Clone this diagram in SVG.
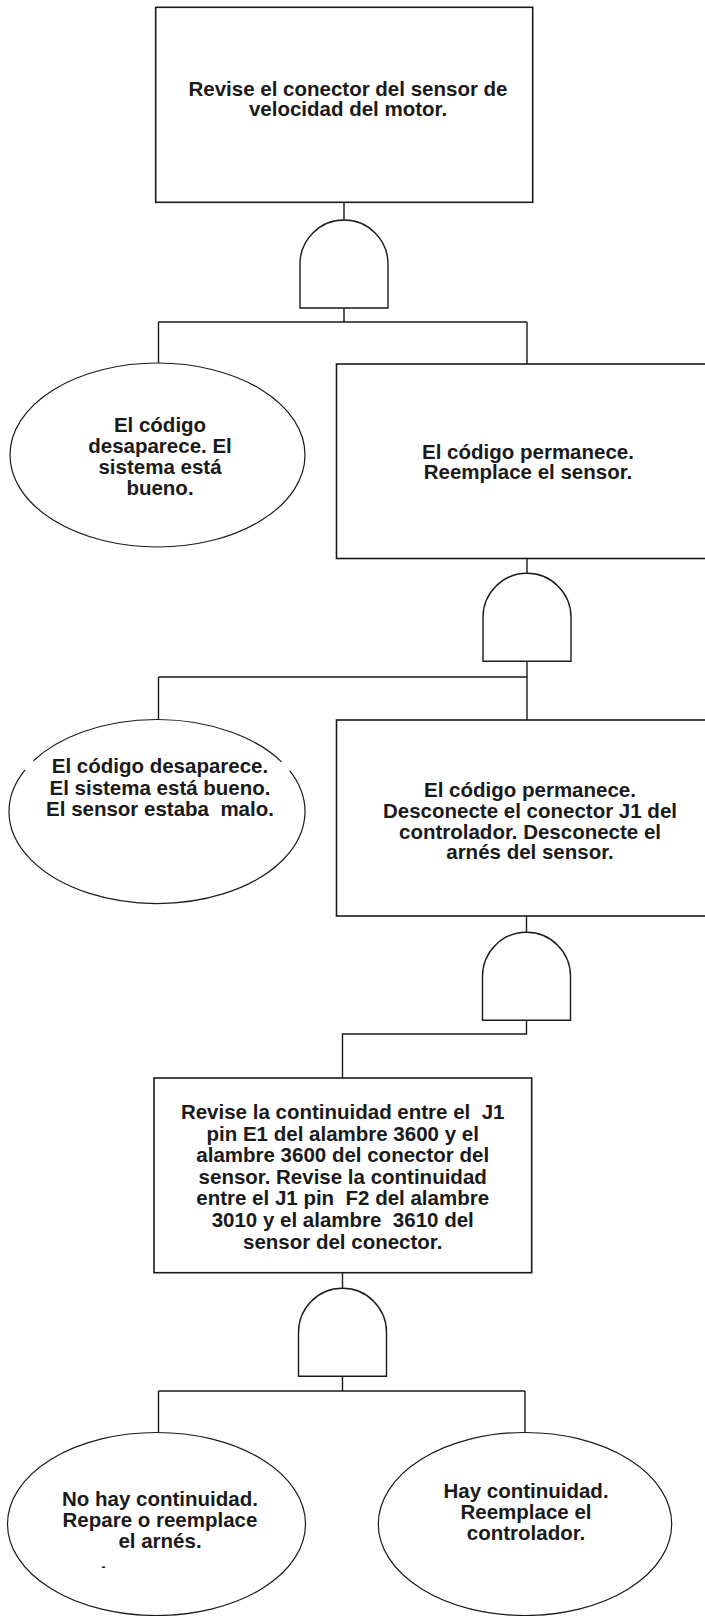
<svg xmlns="http://www.w3.org/2000/svg" width="705" height="1616" viewBox="0 0 705 1616">
<style>
.box{fill:#fff;stroke:#1a1a1a;stroke-width:1.6}
.ell{fill:#fff;stroke:#1a1a1a;stroke-width:1.2}
.gate{fill:#fff;stroke:#1a1a1a;stroke-width:1.4}
.conn{fill:none;stroke:#1a1a1a;stroke-width:1.4}
.t{font-family:"Liberation Sans",Arial,sans-serif;font-weight:bold;font-size:20.5px;fill:#1a1a1a;text-anchor:middle}
</style>
<defs>
<path id="gateShape" d="M-44,88 V44 A44,44 0 0 1 44,44 V88 Z"/>
</defs>
<rect width="705" height="1616" fill="#fff"/>
<g id="connectors">
<path class="conn" d="M344,202.3 V220"/>
<path class="conn" d="M344,307 V322 M158.5,322 H527 M158.5,322 V363 M527,322 V364"/>
<path class="conn" d="M527,558.5 V573.3"/>
<path class="conn" d="M527,661 V677 M158.5,677 H527 M158.5,677 V720 M527,677 V720"/>
<path class="conn" d="M526.5,916 V932.3"/>
<path class="conn" d="M526.5,1020 V1034 H342.5 V1078"/>
<path class="conn" d="M342.5,1272.7 V1288.3"/>
<path class="conn" d="M342.5,1376 V1391 M158.5,1391 H525 M158.5,1391 V1432.5 M525,1391 V1432.5"/>
</g>
<g id="box1">
<rect class="box" x="155.7" y="7.3" width="377" height="195"/>
<text class="t"><tspan x="348" y="96">Revise el conector del sensor de</tspan><tspan x="348" y="116">velocidad del motor.</tspan></text>
</g>
<g id="gate1"><use href="#gateShape" class="gate" x="344" y="220"/></g>
<g id="ellipse1">
<ellipse class="ell" cx="157.5" cy="455" rx="147.5" ry="92"/>
<text class="t"><tspan x="160" y="432">El código</tspan><tspan x="160" y="453">desaparece. El</tspan><tspan x="160" y="474">sistema está</tspan><tspan x="160" y="495">bueno.</tspan></text>
</g>
<g id="box2">
<rect class="box" x="336.5" y="364" width="380" height="194.5"/>
<text class="t"><tspan x="528" y="459">El código permanece.</tspan><tspan x="528" y="479">Reemplace el sensor.</tspan></text>
</g>
<g id="gate2"><use href="#gateShape" class="gate" x="527" y="573.3"/></g>
<g id="ellipse2">
<path class="ell" d="M33.5,760.8 A148,92 0 0 1 281.6,761.9 M289.6,770.7 A148,92 0 1 1 25.1,769.8" fill="none"/>
<text class="t" xml:space="preserve"><tspan x="160" y="773">El código desaparece.</tspan><tspan x="160" y="794.5">El sistema está bueno.</tspan><tspan x="160" y="816">El sensor estaba  malo.</tspan></text>
</g>
<g id="box3">
<rect class="box" x="336.5" y="720" width="380" height="196"/>
<text class="t"><tspan x="530" y="797">El código permanece.</tspan><tspan x="530" y="818">Desconecte el conector J1 del</tspan><tspan x="530" y="838.5">controlador. Desconecte el</tspan><tspan x="530" y="859">arnés del sensor.</tspan></text>
</g>
<g id="gate3"><use href="#gateShape" class="gate" x="526.5" y="932.3"/></g>
<g id="box4">
<rect class="box" x="154" y="1078" width="377.7" height="194.7"/>
<text class="t" xml:space="preserve"><tspan x="342.7" y="1119">Revise la continuidad entre el  J1</tspan><tspan x="342.7" y="1140.6">pin E1 del alambre 3600 y el</tspan><tspan x="342.7" y="1162.2">alambre 3600 del conector del</tspan><tspan x="342.7" y="1183.8">sensor. Revise la continuidad</tspan><tspan x="342.7" y="1205.4">entre el J1 pin  F2 del alambre</tspan><tspan x="342.7" y="1227">3010 y el alambre  3610 del</tspan><tspan x="342.7" y="1248.6">sensor del conector.</tspan></text>
</g>
<g id="gate4"><use href="#gateShape" class="gate" x="342.5" y="1288.3"/></g>
<g id="ellipse3">
<ellipse class="ell" cx="156.5" cy="1524" rx="149" ry="91.5"/>
<text class="t"><tspan x="160" y="1506">No hay continuidad.</tspan><tspan x="160" y="1527">Repare o reemplace</tspan><tspan x="160" y="1548">el arnés.</tspan></text>
<text class="t" x="103.5" y="1571" style="font-size:12px">-</text>
</g>
<g id="ellipse4">
<ellipse class="ell" cx="525" cy="1524" rx="146.7" ry="91.5"/>
<text class="t"><tspan x="526" y="1498">Hay continuidad.</tspan><tspan x="526" y="1519">Reemplace el</tspan><tspan x="526" y="1540">controlador.</tspan></text>
</g>
</svg>
